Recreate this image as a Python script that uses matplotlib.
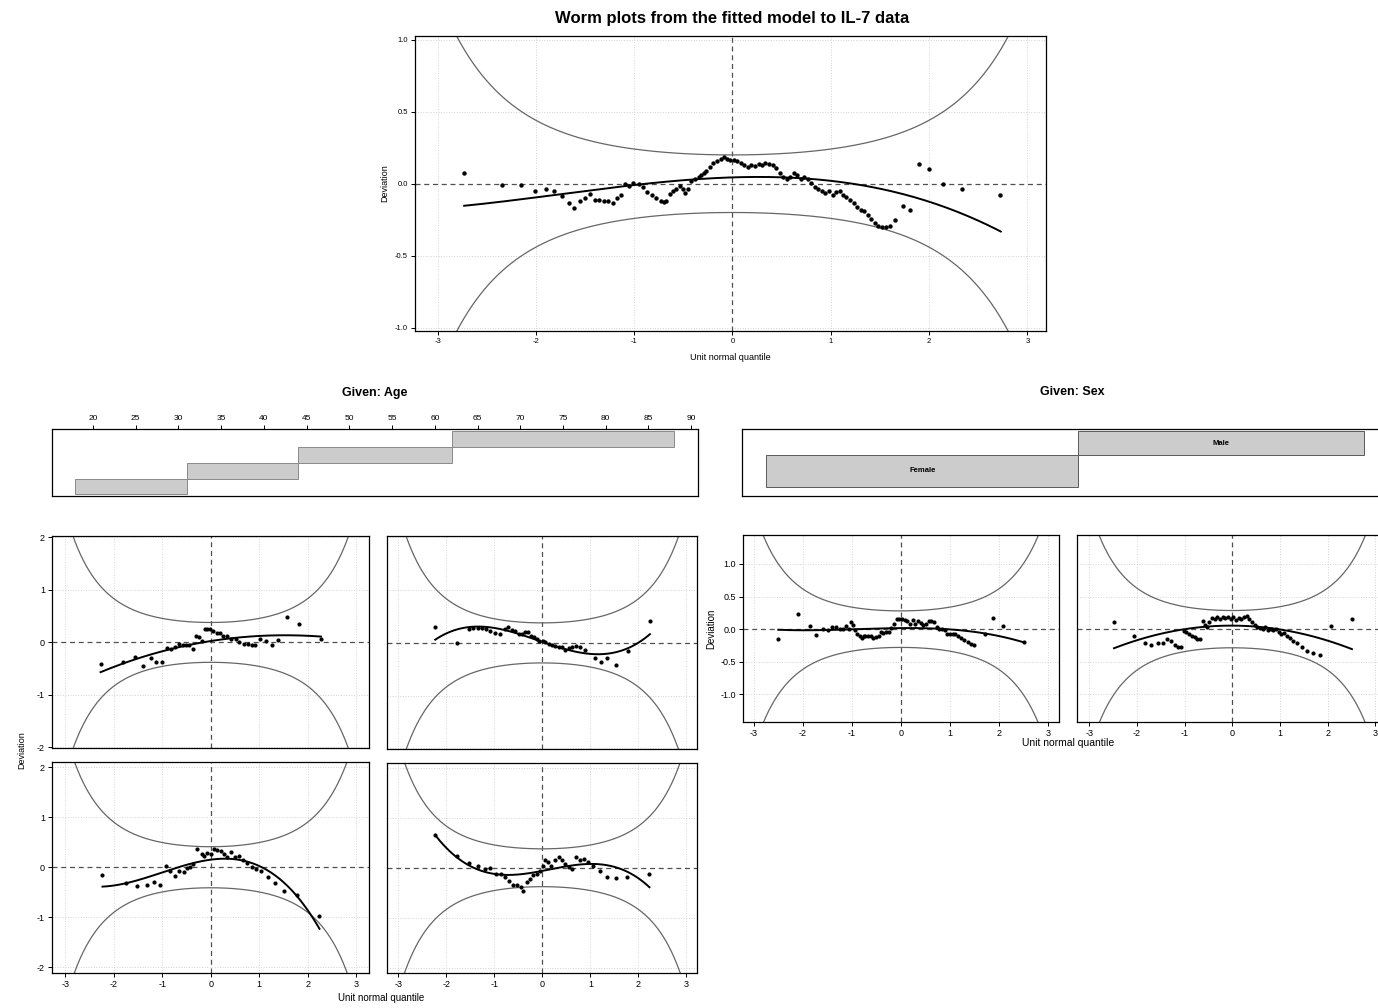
import math
import numpy as np
import matplotlib
matplotlib.use("Agg")
import matplotlib.pyplot as plt

plt.rcParams['font.family'] = ['Liberation Sans', 'DejaVu Sans']
plt.rcParams['axes.unicode_minus'] = False

W, H = 1378, 1008

# ---- data ----
title = "Worm plots from the fitted model to IL-7 data"

# overall worm plot (n = 151)
top_n = 151
top_x = [-2.73, -2.345, -2.15, -2.01, -1.90, -1.82, -1.735, -1.66, -1.61, -1.555, -1.50, -1.45,
         -1.40, -1.36, -1.31, -1.27, -1.22, -1.175, -1.13, -1.095, -1.05, -1.01,
         -0.955, -0.91, -0.865, -0.82, -0.776, -0.73, -0.695, -0.677, -0.64, -0.605, -0.57,
         -0.534, -0.507, -0.48, -0.453, -0.417, -0.38, -0.345, -0.318, -0.29, -0.265, -0.229,
         -0.193, -0.157, -0.121, -0.09, -0.058, -0.022, 0.013, 0.049, 0.085, 0.121, 0.157,
         0.193, 0.229, 0.265, 0.30, 0.336, 0.372, 0.408, 0.444, 0.48, 0.516, 0.55, 0.587,
         0.623, 0.66, 0.695, 0.73, 0.767, 0.80, 0.84, 0.874, 0.91, 0.946, 0.982, 1.018, 1.054,
         1.09, 1.126, 1.16, 1.197, 1.233, 1.27, 1.305, 1.34, 1.377, 1.413, 1.45, 1.484, 1.52,
         1.565, 1.60, 1.655, 1.735, 1.807, 1.897, 2.004, 2.143, 2.34, 2.72]
top_y = [0.072, -0.012, -0.01, -0.05, -0.035, -0.053, -0.086, -0.135, -0.167, -0.12, -0.098, -0.072,
         -0.11, -0.114, -0.123, -0.123, -0.137, -0.10, -0.081, 0.0, -0.016, 0.007,
         -0.002, -0.02, -0.056, -0.081, -0.10, -0.12, -0.13, -0.12, -0.072, -0.053, -0.04,
         -0.016, -0.035, -0.067, -0.04, 0.016, 0.035, 0.049, 0.063, 0.072, 0.09, 0.119,
         0.142, 0.16, 0.174, 0.186, 0.174, 0.167, 0.167, 0.16, 0.147, 0.128, 0.119,
         0.133, 0.123, 0.14, 0.13, 0.142, 0.135, 0.13, 0.107, 0.077, 0.049, 0.03, 0.049,
         0.077, 0.058, 0.035, 0.049, 0.035, 0.007, -0.02, -0.04, -0.053, -0.067, -0.053, -0.077, -0.058,
         -0.053, -0.081, -0.095, -0.114, -0.137, -0.16, -0.184, -0.188, -0.216, -0.244, -0.272, -0.295, -0.30,
         -0.30, -0.295, -0.253, -0.153, -0.184, 0.137, 0.105, 0.0, -0.035, -0.081]
top_fit_x = [-2.73, -2.0, -1.0, 0.0, 1.0, 2.0, 2.73]
top_fit_y = [-0.156, -0.09, -0.009, 0.042, 0.014, -0.114, -0.337]

# given: Age
age_ticks = list(range(20, 95, 5))
age_lo = [17.9, 31.0, 44.0, 62.0]
age_hi = [31.0, 44.0, 62.0, 88.0]

age_n = [42, 42, 36, 42]
age_x = [
    [-2.27, -1.80, -1.56, -1.39, -1.24, -1.12, -1.00, -0.91, -0.82, -0.735, -0.646, -0.577, -0.51,
     -0.44, -0.37, -0.30, -0.24, -0.18, -0.124, -0.069, -0.014, 0.055, 0.137, 0.19, 0.26, 0.33,
     0.41, 0.51, 0.59, 0.69, 0.77, 0.85, 0.92, 1.02, 1.13, 1.26, 1.39, 1.57, 1.81, 2.27],
    [-2.23, -1.77, -1.535, -1.45, -1.35, -1.26, -1.17, -1.09, -0.98, -0.88, -0.785, -0.715, -0.63,
     -0.56, -0.49, -0.42, -0.354, -0.30, -0.23, -0.174, -0.118, -0.06, 0.007, 0.06, 0.13, 0.2,
     0.27, 0.34, 0.41, 0.48, 0.55, 0.62, 0.70, 0.785, 0.88, 1.10, 1.215, 1.35, 1.535, 1.785, 2.24],
    [-2.23, -1.75, -1.51, -1.32, -1.17, -1.045, -0.93, -0.84, -0.74, -0.65, -0.56, -0.495, -0.426,
     -0.357, -0.275, -0.19, -0.137, -0.069, 0.0, 0.069, 0.137, 0.206, 0.275, 0.344, 0.41, 0.495,
     0.577, 0.66, 0.742, 0.84, 0.935, 1.045, 1.18, 1.33, 1.51, 1.77, 2.23],
    [-2.23, -1.77, -1.52, -1.34, -1.19, -1.08, -0.967, -0.87, -0.77, -0.69, -0.605, -0.52, -0.45,
     -0.396, -0.327, -0.257, -0.188, -0.118, -0.049, 0.007, 0.063, 0.118, 0.188, 0.27, 0.34, 0.41,
     0.48, 0.55, 0.62, 0.70, 0.786, 0.87, 0.95, 1.06, 1.20, 1.356, 1.537, 1.77, 2.23],
]
age_y = [
    [-0.41, -0.37, -0.28, -0.44, -0.29, -0.37, -0.37, -0.10, -0.12, -0.095, -0.03, -0.044, -0.044,
     -0.044, -0.12, 0.12, 0.095, 0.03, 0.26, 0.254, 0.248, 0.22, 0.17, 0.18, 0.12, 0.12,
     0.07, 0.063, 0.0, -0.03, -0.03, -0.05, -0.05, 0.07, 0.025, -0.057, 0.044, 0.49, 0.35, 0.063],
    [0.30, 0.0, 0.26, 0.28, 0.286, 0.286, 0.27, 0.216, 0.18, 0.17, 0.26, 0.31, 0.235,
     0.22, 0.17, 0.17, 0.197, 0.203, 0.14, 0.12, 0.07, 0.044, 0.038, 0.025, -0.02, -0.044,
     -0.057, -0.083, -0.083, -0.127, -0.095, -0.07, -0.05, -0.083, -0.127, -0.286, -0.362, -0.286,
     -0.425, -0.146, 0.406],
    [-0.155, -0.32, -0.377, -0.364, -0.29, -0.35, 0.027, -0.074, -0.175, -0.08, -0.088, -0.02, 0.013,
     0.067, 0.364, 0.27, 0.229, 0.283, 0.27, 0.364, 0.337, 0.323, 0.256, 0.195, 0.296, 0.209,
     0.215, 0.148, 0.08, 0.0, -0.027, -0.08, -0.2, -0.31, -0.465, -0.56, -0.97],
    [0.653, 0.242, 0.10, 0.04, -0.027, -0.013, -0.121, -0.135, -0.19, -0.256, -0.337, -0.337, -0.39,
     -0.458, -0.283, -0.229, -0.148, -0.121, -0.067, 0.027, 0.148, 0.108, 0.04, 0.148, 0.215, 0.148,
     0.08, 0.013, -0.027, 0.215, 0.148, 0.175, 0.12, 0.027, -0.067, -0.19, -0.215, -0.19, -0.135],
]
age_fit_x = [
    [-2.27, -1.39, -0.91, 0.0, 0.74, 1.5, 2.27],
    [-2.23, -1.72, -1.3, -0.74, 0.0, 0.5, 1.06, 1.48, 1.9, 2.24],
    [-2.23, -2.0, -1.6, -1.11, -0.63, -0.22, 0.0, 0.47, 0.88, 1.29, 1.77, 2.24],
    [-2.23, -1.77, -1.3, -0.74, -0.33, 0.0, 0.51, 1.06, 1.48, 1.9, 2.23],
]
age_fit_y = [
    [-0.56, -0.30, -0.13, 0.04, 0.095, 0.133, 0.114],
    [0.07, 0.26, 0.30, 0.235, 0.025, -0.115, -0.2, -0.2, -0.08, 0.19],
    [-0.37, -0.36, -0.31, -0.155, -0.02, 0.148, 0.18, 0.2, 0.08, -0.22, -0.56, -1.21],
    [0.64, 0.23, -0.054, -0.16, -0.135, -0.054, 0.047, 0.08, 0.027, -0.175, -0.377],
]

# given: Sex
sex_levels = ["Female", "Male"]
sex_lo = [0.5, 1.5]
sex_hi = [1.5, 2.417]
sex_n = [77, 74]
sex_x = [
    [-2.5, -2.09, -1.86, -1.73, -1.59, -1.48, -1.40, -1.32, -1.25, -1.18, -1.11, -1.05, -1.02, -0.965,
     -0.924, -0.883, -0.842, -0.80, -0.76, -0.72, -0.666, -0.611, -0.557, -0.503, -0.448, -0.408,
     -0.353, -0.30, -0.245, -0.19, -0.136, -0.082, -0.027, 0.027, 0.082, 0.136, 0.19, 0.245, 0.30,
     0.353, 0.408, 0.462, 0.516, 0.57, 0.625, 0.68, 0.734, 0.788, 0.842, 0.897, 0.95, 1.005, 1.06,
     1.114, 1.17, 1.22, 1.29, 1.37, 1.44, 1.49, 1.726, 1.875, 2.09, 2.51],
    [-2.48, -2.06, -1.84, -1.70, -1.56, -1.46, -1.36, -1.28, -1.21, -1.14, -1.08, -1.01, -0.96, -0.90,
     -0.846, -0.79, -0.734, -0.678, -0.622, -0.58, -0.538, -0.483, -0.427, -0.37, -0.315, -0.259,
     -0.203, -0.147, -0.091, -0.035, 0.021, 0.077, 0.133, 0.189, 0.245, 0.30, 0.357, 0.413, 0.469,
     0.524, 0.58, 0.636, 0.692, 0.748, 0.804, 0.86, 0.916, 0.972, 1.028, 1.084, 1.154, 1.21, 1.28,
     1.36, 1.46, 1.57, 1.70, 1.85, 2.08, 2.51],
]
sex_y = [
    [-0.148, 0.23, 0.05, -0.092, 0.01, -0.02, 0.03, 0.04, 0.0, 0.01, 0.05, 0.01, 0.112, 0.06,
     -0.01, -0.071, -0.112, -0.133, -0.112, -0.102, -0.112, -0.112, -0.133, -0.122, -0.112, -0.041,
     -0.061, -0.041, -0.041, 0.02, 0.082, 0.163, 0.163, 0.153, 0.143, 0.122, 0.082, 0.133, 0.082,
     0.122, 0.092, 0.06, 0.082, 0.122, 0.122, 0.112, 0.04, 0.0, 0.01, -0.02, -0.071, -0.071, -0.071,
     -0.071, -0.112, -0.143, -0.173, -0.204, -0.235, -0.245, -0.082, 0.168, 0.056, -0.199],
    [0.112, -0.107, -0.219, -0.25, -0.219, -0.219, -0.158, -0.189, -0.24, -0.27, -0.28, -0.026, -0.046,
     -0.077, -0.107, -0.128, -0.148, -0.148, 0.128, 0.066, 0.036, 0.107, 0.168, 0.158, 0.179, 0.158,
     0.179, 0.168, 0.179, 0.158, 0.179, 0.148, 0.168, 0.158, 0.189, 0.199, 0.158, 0.107, 0.066,
     0.036, 0.015, -0.005, 0.026, -0.015, 0.005, -0.015, 0.005, -0.046, -0.077, -0.066, -0.107, -0.138,
     -0.179, -0.219, -0.27, -0.342, -0.362, -0.403, 0.056, 0.163],
]
sex_fit_x = [
    [-2.5, -1.5, -0.5, 0.0, 0.5, 1.0, 1.5, 2.0, 2.51],
    [-2.48, -1.8, -1.03, -0.47, 0.0, 0.44, 1.0, 1.7, 2.51],
]
sex_fit_y = [
    [-0.01, -0.01, 0.005, 0.015, 0.015, 0.0, -0.04, -0.11, -0.2],
    [-0.29, -0.128, -0.015, 0.046, 0.056, 0.056, -0.005, -0.128, -0.30],
]


def px_axes(fig, left, top, right, bottom):
    return fig.add_axes([left / W, 1 - bottom / H, (right - left) / W, (bottom - top) / H])


def band(z, n):
    # 95% pointwise envelope of a worm plot for sample size n
    p = np.array([0.5 * (1 + math.erf(v / math.sqrt(2))) for v in z])
    d = np.exp(-z ** 2 / 2) / math.sqrt(2 * math.pi)
    return 1.96 * np.sqrt(p * (1 - p) / n) / d


def worm_panel(ax, x, y, fx, fy, n, xlim, ylim, grid_y, pt=9):
    ax.set_xlim(*xlim)
    ax.set_ylim(*ylim)
    for g in [-3, -2, -1, 1, 2, 3]:
        ax.axvline(g, color='#d4d4d4', lw=0.7, ls=':', zorder=0)
    for g in grid_y:
        ax.axhline(g, color='#d4d4d4', lw=0.7, ls=':', zorder=0)
    ax.axhline(0, color='#505050', lw=0.9, ls=(0, (4, 3)), zorder=1)
    ax.axvline(0, color='#505050', lw=0.9, ls=(0, (4, 3)), zorder=1)
    z = np.linspace(-3.6, 3.6, 500)
    b = band(z, n)
    ax.plot(z, b, color='#666666', lw=0.9, zorder=2)
    ax.plot(z, -b, color='#666666', lw=0.9, zorder=2)
    coef = np.polyfit(fx, fy, 3)
    xs = np.linspace(min(fx), max(fx), 200)
    ax.plot(xs, np.polyval(coef, xs), color='black', lw=1.4, zorder=3)
    ax.scatter(x, y, s=pt, color='black', linewidths=0, zorder=4)
    for s in ax.spines.values():
        s.set_linewidth(0.9)
    ax.tick_params(length=3, width=0.7, pad=2, labelsize=6.5)


fig = plt.figure(figsize=(W / 100, H / 100), dpi=100)
fig.text(732 / W, 1 - 18 / H, title, ha='center', va='center', fontsize=12, fontweight='bold')

# ---- top worm plot ----
ax = px_axes(fig, 415, 36, 1046, 331)
worm_panel(ax, top_x, top_y, top_fit_x, top_fit_y, top_n, (-3.23, 3.19), (-1.023, 1.026),
           [-1.0, -0.5, 0.5, 1.0], pt=10)
ax.set_xticks([-3, -2, -1, 0, 1, 2, 3])
ax.set_yticks([-1.0, -0.5, 0.0, 0.5, 1.0])
ax.set_yticklabels(['-1.0', '-0.5', '0.0', '0.5', '1.0'])
ax.tick_params(labelsize=5.5)
ax.set_xlabel('Unit normal quantile', fontsize=6.5, labelpad=6)
ax.set_ylabel('Deviation', fontsize=6.5, labelpad=4)

# ---- given: Age ----
ax = px_axes(fig, 52, 429, 698, 496)
ax.set_xlim(15.2, 90.8)
ax.set_ylim(-0.11, 4.15)
for i, (lo, hi) in enumerate(zip(age_lo, age_hi)):
    ax.add_patch(plt.Rectangle((lo, i), hi - lo, 1, facecolor='#cccccc', edgecolor='#8a8a8a', lw=0.7))
ax.xaxis.tick_top()
ax.set_xticks(age_ticks)
ax.set_yticks([])
ax.tick_params(length=3, width=0.7, pad=2, labelsize=6)
for s in ax.spines.values():
    s.set_linewidth(0.9)
ax.set_title('Given: Age', fontsize=9, fontweight='bold', pad=24)

# ---- given: Sex ----
ax = px_axes(fig, 742, 429, 1400, 496)
ax.set_xlim(0.4224, 2.531)
ax.set_ylim(0, 1)
sex_bottom = [0.14, 0.615]
sex_top = [0.615, 0.964]
for lo, hi, b0, b1, lab in zip(sex_lo, sex_hi, sex_bottom, sex_top, sex_levels):
    ax.add_patch(plt.Rectangle((lo, b0), hi - lo, b1 - b0, facecolor='#cccccc', edgecolor='#5a5a5a', lw=0.7))
    ax.text((lo + hi) / 2, (b0 + b1) / 2, lab, ha='center', va='center', fontsize=5.5, fontweight='bold')
ax.set_xticks([])
ax.set_yticks([])
for s in ax.spines.values():
    s.set_linewidth(0.9)
fig.text(1072 / W, 1 - 392 / H, 'Given: Sex', ha='center', va='center', fontsize=9, fontweight='bold')

# ---- Age panels ----
age_boxes = [(52, 536, 369, 748), (387, 536, 697, 749), (52, 762, 369, 973), (387, 763, 697, 973)]
age_xlims = [(-3.27, 3.26), (-3.235, 3.22), (-3.27, 3.26), (-3.235, 3.22)]
age_ylims = [(-2.01, 2.025), (-2.01, 2.025), (-2.11, 2.10), (-2.11, 2.10)]
for k in range(4):
    ax = px_axes(fig, *age_boxes[k])
    worm_panel(ax, age_x[k], age_y[k], age_fit_x[k], age_fit_y[k], age_n[k],
               age_xlims[k], age_ylims[k], [-2, -1, 1, 2])
    ax.set_xticks([-3, -2, -1, 0, 1, 2, 3])
    ax.set_yticks([-2, -1, 0, 1, 2])
    if k < 2:
        ax.tick_params(axis='x', bottom=False, labelbottom=False)
    if k % 2 == 1:
        ax.tick_params(axis='y', left=False, labelleft=False)
fig.text(22 / W, 1 - 750 / H, 'Deviation', rotation=90, ha='center', va='center', fontsize=6.5)
fig.text(381 / W, 1 - 998 / H, 'Unit normal quantile', ha='center', va='center', fontsize=7)

# ---- Sex panels ----
sex_boxes = [(743, 535, 1059, 722), (1077, 535, 1392, 722)]
sex_xlims = [(-3.22, 3.23), (-3.256, 3.35)]
for k in range(2):
    ax = px_axes(fig, *sex_boxes[k])
    worm_panel(ax, sex_x[k], sex_y[k], sex_fit_x[k], sex_fit_y[k], sex_n[k],
               sex_xlims[k], (-1.424, 1.444), [-1.0, -0.5, 0.5, 1.0])
    ax.set_xticks([-3, -2, -1, 0, 1, 2, 3])
    ax.set_yticks([-1.0, -0.5, 0.0, 0.5, 1.0])
    ax.set_yticklabels(['-1.0', '-0.5', '0.0', '0.5', '1.0'])
    if k == 1:
        ax.tick_params(axis='y', left=False, labelleft=False)
    else:
        ax.set_ylabel('Deviation', fontsize=7, labelpad=3)
fig.text(1068 / W, 1 - 743 / H, 'Unit normal quantile', ha='center', va='center', fontsize=7.5)

fig.savefig('out.png', dpi=100)
